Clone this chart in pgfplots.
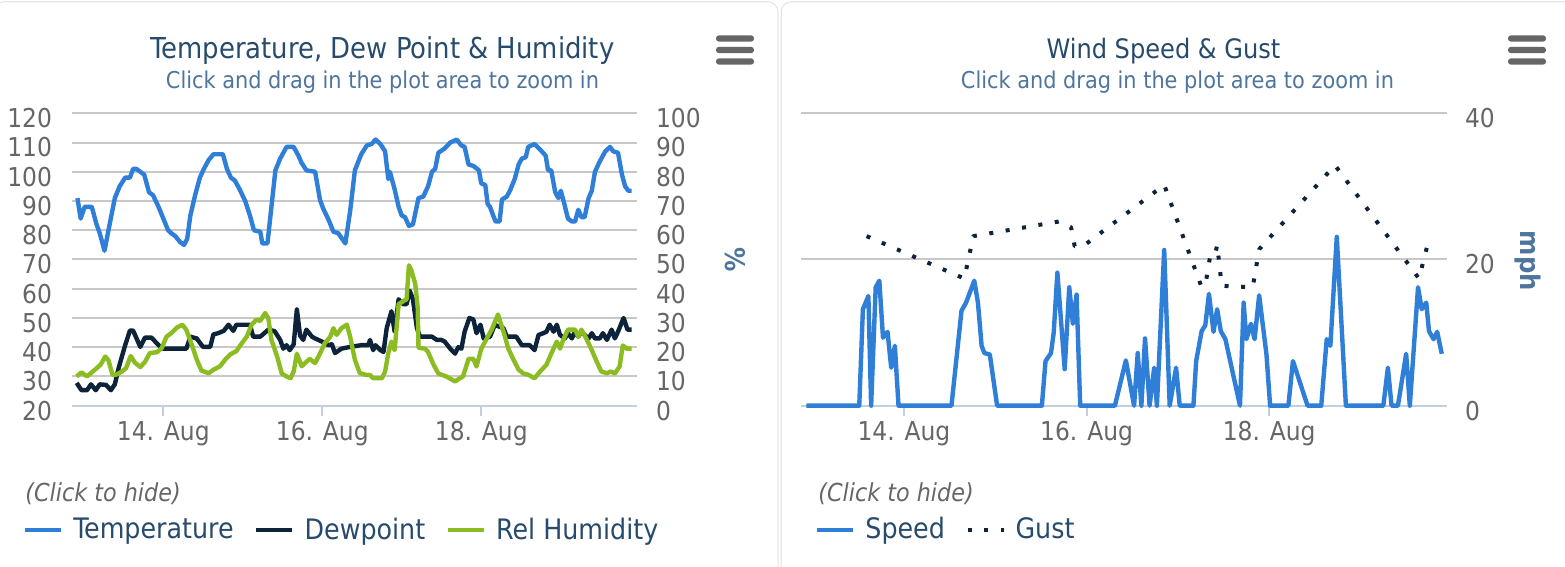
\documentclass[border=0pt]{standalone}
\usepackage{pgfplots}
\pgfplotsset{compat=1.18}
\usepackage{fontspec}
\setmainfont{DejaVu Sans Condensed}[BoldFont={DejaVu Sans Condensed Bold},ItalicFont={DejaVu Sans Condensed Oblique}]

\definecolor{tempblue}{HTML}{2F7ED8}
\definecolor{dewdark}{HTML}{0D233A}
\definecolor{humgreen}{HTML}{8BBC21}
\definecolor{gridgray}{HTML}{C8C8C8}
\definecolor{axisblue}{HTML}{C0D0E0}
\definecolor{labelgray}{HTML}{666666}
\definecolor{titleblue}{HTML}{274B6D}
\definecolor{subblue}{HTML}{4D759E}
\definecolor{cardgray}{HTML}{E6E6E6}

% x values are days of August (14 = 14 Aug 00:00)
\pgfplotsset{
  hc/.style={
    scale only axis, height=146.2pt, clip=false,
    axis line style={-},
    tick label style={font=\fontsize{13}{13}\selectfont, text=labelgray,
      /pgf/number format/assume math mode=true},
    xtick={14,16,18}, xticklabels={14. Aug,16. Aug,18. Aug},
    tick align=outside, major tick length=5pt,
    xtick style={color=axisblue, line width=1pt},
    x axis line style={color=axisblue, line width=1pt},
    ytick style={draw=none},
    y axis line style={draw=none},
    y grid style={color=gridgray, line width=1pt},
    xticklabel style={anchor=base, yshift=-12.6pt},
    every axis plot/.append style={line width=2.2pt, line join=round, mark=none},
    legend image code/.code={\draw[#1, line cap=butt] (0pt,0pt) -- (18pt,0pt);},
    legend columns=-1,
  },
  hclegend/.style={
    legend style={draw=none, fill=none, inner sep=0pt, outer sep=0pt,
      at={#1}, anchor=west,
      font=\fontsize{14.1}{14}\selectfont, text=titleblue,
      nodes={inner sep=0pt},
      /tikz/every odd column/.append style={column sep=5pt},
      /tikz/every even column/.append style={column sep=10.3pt}},
  },
}

\begin{document}
\begin{tikzpicture}
\path[use as bounding box] (0,0) rectangle (782.5pt,283.5pt);
\draw[cardgray, line width=0.6pt, rounded corners=5pt] (-3pt,-6pt) rectangle (389pt,282.6pt);
\draw[cardgray, line width=0.6pt, rounded corners=5pt] (390.6pt,-6pt) rectangle (800pt,282.6pt);

% ---------- left: temperature and dew point ----------
\begin{axis}[hc, at={(36.15pt,80.65pt)}, width=282.2pt,
  xmin=12.855, xmax=19.955, ymin=20, ymax=120, ytick={20,30,...,120},
  axis x line*=bottom, axis y line*=left, ymajorgrids,
  yticklabel style={anchor=east, inner sep=0pt, xshift=-5pt, yshift=-2.5pt}]
\addplot[tempblue] coordinates {
(12.92,91) (12.96,84) (13.01,88) (13.10,88) (13.16,82) (13.20,79) (13.26,73) (13.31,80)
(13.39,91) (13.45,95) (13.52,98) (13.58,98) (13.62,101) (13.66,101) (13.71,100) (13.76,99)
(13.82,93) (13.87,92) (13.94,88) (14.00,84) (14.06,80) (14.10,79) (14.15,78) (14.21,76)
(14.26,75) (14.30,77) (14.34,85) (14.40,92) (14.46,98) (14.51,101) (14.57,104) (14.63,106)
(14.75,106) (14.80,101) (14.85,98) (14.90,97) (14.96,94) (15.03,90) (15.09,85) (15.14,80)
(15.22,79.5) (15.245,75.5) (15.31,75.5) (15.36,88) (15.41,100.5) (15.47,104.5) (15.55,108.5)
(15.64,108.5) (15.70,105.5) (15.74,103) (15.80,100.5) (15.91,100) (15.97,90.5) (16.01,87.5)
(16.08,83.5) (16.14,79.5) (16.20,79) (16.29,75.5) (16.35,86.5) (16.41,100.5) (16.49,106)
(16.56,109) (16.62,109.5) (16.67,111) (16.73,109.5) (16.79,107) (16.83,97.5) (16.85,100)
(16.91,94) (16.96,88) (17.00,85) (17.04,84.5) (17.09,81.5) (17.14,82) (17.21,91) (17.27,91.5)
(17.33,95) (17.38,100) (17.42,101) (17.46,106.5) (17.54,108) (17.61,110) (17.69,111)
(17.75,109) (17.79,108.5) (17.84,102.5) (17.90,102) (17.97,100.5) (18.00,96) (18.05,95.5)
(18.08,89) (18.11,88) (18.15,85) (18.18,83) (18.23,83) (18.26,90.5) (18.32,91.5) (18.36,93.5)
(18.42,97.5) (18.47,102.5) (18.51,104.5) (18.56,105) (18.59,108.5) (18.67,109.5) (18.76,107)
(18.81,105.5) (18.84,100.5) (18.88,100.5) (18.93,93) (18.97,91) (19.00,93.5) (19.04,89.5)
(19.09,84) (19.14,83) (19.18,83) (19.22,87) (19.26,84.5) (19.30,84.5) (19.35,91) (19.39,93.5)
(19.43,100) (19.49,103.5) (19.56,107) (19.62,108.5) (19.66,107) (19.72,106.5) (19.77,99)
(19.81,95) (19.85,93.5) (19.89,93.5)
};
\addplot[dewdark] coordinates {
(12.91,27.8) (12.97,25.3) (13.04,25.3) (13.09,27.3) (13.15,25.3) (13.20,27.3) (13.28,27.1)
(13.34,25.3) (13.39,27.3) (13.44,33.1) (13.52,40.7) (13.58,45.7) (13.62,45.7) (13.71,40.1)
(13.77,43.3) (13.85,43.3) (13.94,40.7) (14.00,39.5) (14.29,39.5) (14.34,43.6) (14.42,43)
(14.50,40.1) (14.59,40.1) (14.63,44.4) (14.69,44.8) (14.76,45.6) (14.82,47.7) (14.88,45.6)
(14.92,47.7) (15.09,47.7) (15.13,43.6) (15.22,43.6) (15.32,46) (15.40,45.5) (15.47,42.5)
(15.51,39.5) (15.55,40.7) (15.59,39) (15.64,41) (15.68,53) (15.72,44) (15.76,42.5) (15.80,46)
(15.87,43.6) (15.91,43) (15.99,42) (16.08,40.7) (16.12,41) (16.16,38) (16.24,39.5) (16.33,40)
(16.49,40.7) (16.58,40.7) (16.60,42.5) (16.64,39) (16.67,40.7) (16.73,39) (16.77,38.4)
(16.81,46.5) (16.87,52.3) (16.91,45.3) (16.96,56.4) (17.02,54.7) (17.06,54.7) (17.10,59.3)
(17.14,56.4) (17.19,46.5) (17.23,43.6) (17.38,43.6) (17.44,42.5) (17.50,42.5) (17.54,41.9)
(17.61,39.5) (17.67,37.8) (17.71,40) (17.75,39.5) (17.79,45.3) (17.85,50) (17.90,49.5)
(17.94,44.8) (17.99,47.7) (18.03,43) (18.11,43.6) (18.17,47.7) (18.21,47.2) (18.28,46.5)
(18.32,43.6) (18.44,43.6) (18.51,40.7) (18.61,40.7) (18.67,39) (18.72,44.2) (18.78,44.8)
(18.82,45.3) (18.86,47.7) (18.91,45.3) (18.95,47.7) (18.99,44.2) (19.05,43) (19.09,44.8)
(19.14,43) (19.18,45.3) (19.22,43.6) (19.26,45.3) (19.30,44.2) (19.35,43) (19.39,44.8)
(19.43,43) (19.49,43) (19.53,44.8) (19.58,42.5) (19.64,46) (19.68,43) (19.72,45.3) (19.79,50)
(19.84,46) (19.89,46)
};
\end{axis}

% ---------- left: relative humidity (right axis) ----------
\begin{axis}[hc, hclegend={(axis description cs:-0.0873,-0.4244)},
  at={(36.15pt,80.65pt)}, width=282.2pt,
  xmin=12.855, xmax=19.955, ymin=0, ymax=100, ytick={0,10,...,100},
  axis x line=none, axis y line*=right,
  yticklabel style={anchor=west, inner sep=0pt, xshift=4.5pt, yshift=-2.5pt}]
\addlegendimage{tempblue, line width=2.2pt}\addlegendentry{Temperature}
\addlegendimage{dewdark, line width=2.2pt}\addlegendentry{Dewpoint}
\addplot[humgreen] coordinates {
(12.91,10) (12.97,11.4) (13.04,10) (13.10,11.4) (13.16,12.8) (13.21,14) (13.27,16.8)
(13.31,15.5) (13.36,10.6) (13.41,10.6) (13.48,11.7) (13.53,12.8) (13.59,17) (13.64,14.8)
(13.71,13.2) (13.77,15) (13.83,18) (13.92,18.3) (13.98,19.7) (14.04,23.6) (14.10,24.8)
(14.17,26.7) (14.24,27.7) (14.29,25.9) (14.36,20.7) (14.42,15.8) (14.48,12) (14.57,11.1)
(14.63,12.3) (14.71,13.4) (14.78,15.8) (14.84,17.5) (14.92,18.7) (14.97,20.7) (15.05,23.6)
(15.11,27.7) (15.17,29.4) (15.22,29) (15.28,31.7) (15.32,30) (15.36,22.5) (15.43,17)
(15.49,11) (15.55,10) (15.60,9.4) (15.64,11.7) (15.68,17.8) (15.74,13.5) (15.80,15) (15.84,16)
(15.91,14.6) (15.97,17.8) (16.03,21.3) (16.10,23.6) (16.14,26.5) (16.18,24.2) (16.24,26.5)
(16.31,27.7) (16.35,23.6) (16.41,15.7) (16.47,11.2) (16.54,10.6) (16.60,10.5) (16.64,9.4)
(16.75,9.4) (16.79,11.7) (16.83,17.9) (16.87,21.9) (16.91,19) (16.96,34.7) (17.02,35.8)
(17.06,36.4) (17.09,48) (17.12,46.3) (17.17,41.6) (17.20,33.5) (17.21,19.8) (17.29,19.5)
(17.33,18.4) (17.40,14) (17.46,11) (17.56,10) (17.67,8.3) (17.73,9.4) (17.77,10) (17.84,16)
(17.90,16) (17.94,13.4) (18.00,19.5) (18.07,23) (18.13,26) (18.21,31.2) (18.28,25.3)
(18.34,19.5) (18.40,16) (18.47,12.3) (18.53,11) (18.59,10.6) (18.67,9.4) (18.74,11.7)
(18.82,14) (18.88,17.8) (18.95,21.9) (18.99,19.5) (19.03,22.5) (19.09,26) (19.18,26)
(19.22,23.6) (19.26,26) (19.32,23) (19.39,19) (19.45,15.2) (19.51,11.7) (19.58,11.1)
(19.63,11.7) (19.68,11) (19.74,13.4) (19.78,20.6) (19.83,19.5) (19.89,19.5)
};
\addlegendentry{Rel Humidity}
\end{axis}

% ---------- right: wind speed and gust ----------
\begin{axis}[hc, hclegend={(axis description cs:0.0217,-0.4244)},
  at={(400.5pt,80.65pt)}, width=322.85pt,
  xmin=12.872, xmax=19.944, ymin=0, ymax=40, ytick={0,20,40},
  axis x line*=bottom, axis y line*=right, ymajorgrids,
  yticklabel style={anchor=west, inner sep=0pt, xshift=4pt, yshift=-2.5pt}]
\addplot[tempblue] coordinates {
(12.93,0) (13.51,0) (13.55,13.2) (13.61,15) (13.64,0) (13.69,16.2) (13.73,17.1) (13.77,9.3)
(13.82,10.1) (13.86,5.2) (13.90,8.2) (13.94,0) (14.52,0) (14.63,13) (14.68,14.1) (14.77,17.1)
(14.81,14.1) (14.85,8.2) (14.88,7.2) (14.94,7) (15.02,0) (15.51,0) (15.55,6.1) (15.61,7.2)
(15.64,10) (15.68,18.2) (15.76,5) (15.81,16.2) (15.85,11.2) (15.89,15.2) (15.93,0) (16.31,0)
(16.43,6.2) (16.52,0) (16.56,7.2) (16.60,0) (16.64,9.2) (16.69,0) (16.74,5.2) (16.77,0)
(16.85,21.3) (16.91,0) (16.98,5.2) (17.02,0) (17.17,0) (17.20,6.1) (17.26,10.2) (17.30,11)
(17.34,15.3) (17.39,10.1) (17.43,13.2) (17.47,10.2) (17.52,9.1) (17.68,0) (17.72,14.1)
(17.75,9.1) (17.80,11.2) (17.84,9.1) (17.89,15.1) (17.97,7) (18.01,0) (18.21,0) (18.26,6.1)
(18.42,0) (18.57,0) (18.63,9.1) (18.67,8.2) (18.74,23.1) (18.84,0) (19.25,0) (19.30,5.2)
(19.34,0) (19.41,0) (19.50,7.1) (19.54,0) (19.63,16.2) (19.67,13.2) (19.72,14.1) (19.75,10.2)
(19.80,9.1) (19.84,10.1) (19.89,7.1)
};
\addlegendentry{Speed}
\addplot[dewdark, line width=2pt, line cap=butt, dash pattern=on 2pt off 6.3pt] coordinates {
(13.59,23.2) (14.66,17.4) (14.76,23.2) (15.70,25.2) (15.83,24.4) (15.87,21.8) (15.98,22.0)
(16.85,30.2) (17.26,16.2) (17.31,17.2) (17.35,20.2) (17.40,20.2) (17.43,22.0) (17.48,16.4)
(17.82,16.2) (17.89,21.4) (18.72,32.9) (19.64,17.4) (19.73,21.8)
};
\addlegendentry{Gust}
\end{axis}

% ---------- titles, axis titles, legend captions, menu buttons ----------
\node[anchor=base, text=titleblue, font=\fontsize{14.4}{15}\selectfont] at (191.25pt,254.35pt) {Temperature, Dew Point \& Humidity};
\node[anchor=base, text=subblue, font=\fontsize{11.6}{12}\selectfont] at (191.25pt,239.35pt) {Click and drag in the plot area to zoom in};
\node[anchor=base, text=titleblue, font=\fontsize{13.4}{15}\selectfont] at (581.75pt,254.35pt) {Wind Speed \& Gust};
\node[anchor=base, text=subblue, font=\fontsize{11.6}{12}\selectfont] at (588.75pt,239.35pt) {Click and drag in the plot area to zoom in};
\node[rotate=-90, text=subblue, font=\bfseries\fontsize{13.5}{14}\selectfont] at (367.5pt,153.5pt) {\%};
\node[rotate=-90, text=subblue, font=\bfseries\fontsize{13.5}{14}\selectfont] at (763.75pt,153pt) {mph};
\node[anchor=base west, inner sep=0pt, text=labelgray, font=\itshape\fontsize{12.4}{13}\selectfont] at (12.5pt,32.5pt) {(Click to hide)};
\node[anchor=base west, inner sep=0pt, text=labelgray, font=\itshape\fontsize{12.4}{13}\selectfont] at (409pt,32.5pt) {(Click to hide)};
\foreach \x in {358pt,754pt}{
  \foreach \y in {264.25pt,258.5pt,252.75pt}{
    \fill[labelgray, rounded corners=1.5pt] ([xshift=\x,yshift=\y]0,-1.6pt) rectangle ([xshift=\x,yshift=\y]19pt,1.6pt);
  }
}
\end{tikzpicture}
\end{document}
